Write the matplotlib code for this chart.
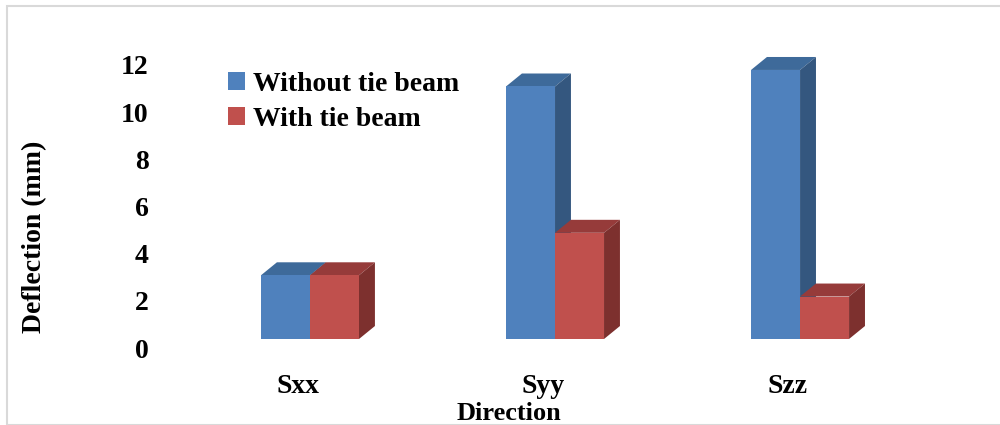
import matplotlib
matplotlib.use("Agg")
import matplotlib.pyplot as plt
import matplotlib.transforms as mtransforms
from matplotlib.patches import Polygon, Rectangle, Patch
import numpy as np

# data
directions = ["Sxx", "Syy", "Szz"]
without_tie = [2.7, 10.7, 11.4]
with_tie = [2.7, 4.5, 1.8]
series_names = ["Without tie beam", "With tie beam"]

# colours: front, top, side
blue = ("#4F81BD", "#3E6A9A", "#34577F")
red = ("#C0504D", "#963B3A", "#7D302E")

plt.rcParams["font.family"] = ["Liberation Serif", "DejaVu Serif"]
plt.rcParams["font.weight"] = "bold"
fs = 20

W, H = 1000, 425
fig = plt.figure(figsize=(10, 4.25), dpi=100)

# light grey frame round the chart
fig.patches.append(Rectangle((7 / W, 0), 1.0, 1 - 6 / H, transform=fig.transFigure,
                             fill=False, edgecolor="#D9D9D9", linewidth=1.5))

# axes placed so that the value 0 sits at y=339 px and 1 unit ~ 23.6 px
ax = fig.add_axes([150 / W, (H - 339) / H, 800 / W, 295 / H])
ax.set_xlim(-0.653, 2.612)
ax.set_ylim(0, 12.5)
for s in ax.spines.values():
    s.set_visible(False)
ax.patch.set_alpha(0)

x = np.arange(len(directions))
bw = 0.2
dx, dy = 0.065, 0.55   # depth of the pseudo 3d boxes


def box(x0, h, cols):
    front, top, side = cols
    ax.add_patch(Polygon([(x0, h), (x0 + dx, h + dy), (x0 + bw + dx, h + dy), (x0 + bw, h)],
                         closed=True, facecolor=top, edgecolor="none"))
    ax.add_patch(Polygon([(x0 + bw, 0), (x0 + bw + dx, dy), (x0 + bw + dx, h + dy), (x0 + bw, h)],
                         closed=True, facecolor=side, edgecolor="none"))
    ax.bar(x0, h, width=bw, align="edge", color=front, edgecolor="none")


for i in range(len(directions)):
    box(x[i] - bw, without_tie[i], blue)
    box(x[i], with_tie[i], red)

ax.set_yticks(np.arange(0, 13, 2))
ax.set_yticklabels([str(v) for v in range(0, 13, 2)], fontsize=fs, fontweight="bold")
ax.tick_params(axis="y", length=0, pad=1)
off = mtransforms.ScaledTranslation(0, -9 / 100, fig.dpi_scale_trans)
for lab in ax.get_yticklabels():
    lab.set_transform(lab.get_transform() + off)

ax.set_xticks(x)
ax.set_xticklabels(directions, fontsize=fs, fontweight="bold")
ax.tick_params(axis="x", length=0, pad=25)
off2 = mtransforms.ScaledTranslation(-12 / 100, 0, fig.dpi_scale_trans)
for lab in ax.get_xticklabels():
    lab.set_transform(lab.get_transform() + off2)

fig.text(509 / W, 1 - 414 / H, "Direction", fontsize=19, fontweight="bold",
         ha="center", va="center")
fig.text(35 / W, 1 - 237 / H, "Deflection (mm)", fontsize=fs, fontweight="bold",
         ha="center", va="center", rotation=90)

handles = [Patch(facecolor=blue[0]), Patch(facecolor=red[0])]
fig.legend(handles, series_names, loc="upper left", bbox_to_anchor=(228 / W, 1 - 72 / H),
           frameon=False, prop={"weight": "bold", "size": fs},
           handlelength=0.6, handleheight=0.6, handletextpad=0.3,
           labelspacing=0.35, borderpad=0, borderaxespad=0)

fig.savefig("out.png", dpi=100)
